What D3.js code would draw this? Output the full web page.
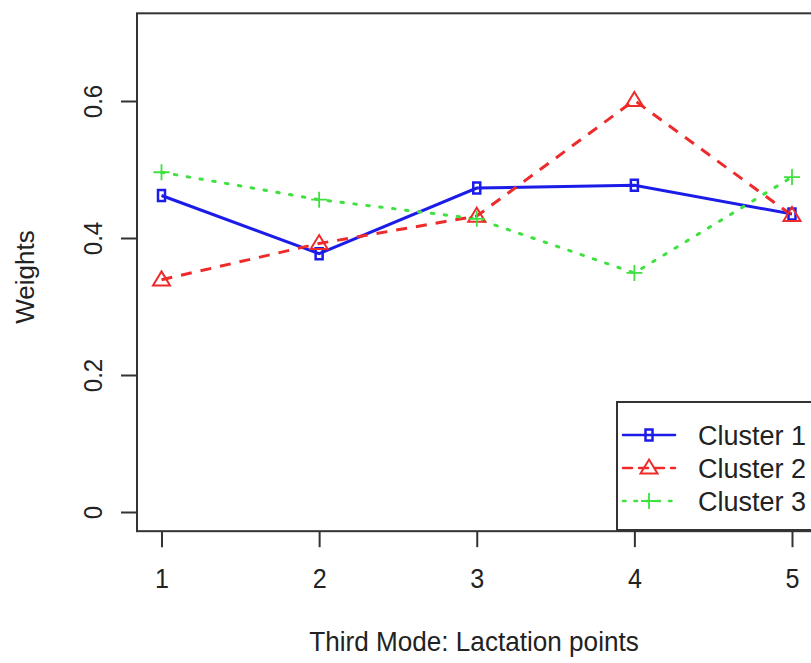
<!DOCTYPE html>
<html>
<head>
<meta charset="utf-8">
<script src="https://cdn.jsdelivr.net/npm/d3@7"></script>
<style>
  html, body { margin: 0; padding: 0; background: #fff; }
  svg { display: block; font-family: "Liberation Sans", Arial, sans-serif; }
</style>
</head>
<body>
<svg id="chart" width="811" height="663"></svg>
<script>
// Lactation points on the third mode
const points = [1, 2, 3, 4, 5];
const xTickLabels = ["1", "2", "3", "4", "5"];
const yTicks = [0, 0.2, 0.4, 0.6];
const yTickLabels = ["0", "0.2", "0.4", "0.6"];

// Cluster weights per lactation point
const cluster1 = [0.462, 0.377, 0.473, 0.477, 0.435];
const cluster2 = [0.339, 0.392, 0.432, 0.601, 0.433];
const cluster3 = [0.496, 0.456, 0.428, 0.349, 0.489];
const seriesNames = ["Cluster 1", "Cluster 2", "Cluster 3"];

const svg = d3.select("#chart");

const x = d3.scaleLinear().domain([1, 5]).range([161.5, 792]);
const y = d3.scaleLinear().domain([0, 0.6]).range([512, 101]);

// plot region (R style: 4% padding around the data range)
const xLo = x.invert(137), xHi = x.invert(817);
const yLo = -0.028, yHi = 0.728;

const styles = [
  { values: cluster1, color: "#1c1ce8", dash: null, marker: "square" },
  { values: cluster2, color: "#ee2b2b", dash: "11,9", marker: "triangle" },
  { values: cluster3, color: "#3fe03f", dash: "2.5,10.5", marker: "plus" }
];

const line = d3.line().x((d, i) => x(points[i])).y(d => y(d));

const gLines = svg.append("g");
styles.forEach(s => {
  gLines.append("path")
    .datum(s.values)
    .attr("d", line)
    .attr("fill", "none")
    .attr("stroke", s.color)
    .attr("stroke-width", 3)
    .attr("stroke-linecap", s.marker === "plus" ? "round" : "butt")
    .attr("stroke-dasharray", s.dash);
});

function drawMarker(g, kind, cx, cy, color) {
  if (kind === "square") {
    g.append("rect")
      .attr("x", cx - 3.5).attr("y", cy - 5.5)
      .attr("width", 7).attr("height", 11)
      .attr("fill", "none").attr("stroke", color).attr("stroke-width", 2.5);
  } else if (kind === "triangle") {
    const h = 14, w = 17;
    g.append("path")
      .attr("d", `M${cx},${cy - h * 0.6}L${cx + w / 2},${cy + h * 0.4}L${cx - w / 2},${cy + h * 0.4}Z`)
      .attr("fill", "none").attr("stroke", color).attr("stroke-width", 2);
  } else {
    const r = 8;
    g.append("path")
      .attr("d", `M${cx - r},${cy}H${cx + r}M${cx},${cy - r}V${cy + r}`)
      .attr("fill", "none").attr("stroke", color).attr("stroke-width", 1.8);
  }
}

const gMarks = svg.append("g");
styles.forEach(s => {
  s.values.forEach((v, i) => drawMarker(gMarks, s.marker, x(points[i]), y(v), s.color));
});

// plot frame
const axisColor = "#333";
const textColor = "#222";
svg.append("rect")
  .attr("x", x(xLo)).attr("y", y(yHi))
  .attr("width", x(xHi) - x(xLo)).attr("height", y(yLo) - y(yHi))
  .attr("fill", "none").attr("stroke", axisColor).attr("stroke-width", 2);

// x axis
const xAxis = d3.axisBottom(x).tickValues(points).tickSize(16).tickPadding(0)
  .tickFormat((d, i) => xTickLabels[i]);
const gx = svg.append("g").attr("transform", `translate(0,${y(yLo)})`).call(xAxis);
gx.select(".domain").remove();
gx.selectAll(".tick line").attr("stroke", axisColor).attr("stroke-width", 2);
gx.selectAll(".tick text")
  .attr("font-size", 27).attr("fill", textColor)
  .attr("font-family", "'Liberation Sans', Arial, sans-serif")
  .attr("y", null).attr("dy", null)
  .attr("transform", "translate(0,57) scale(0.93,1)");

// y axis with rotated tick labels
const yAxis = d3.axisLeft(y).tickValues(yTicks).tickSize(16).tickFormat((d, i) => yTickLabels[i]);
const gy = svg.append("g").attr("transform", `translate(${x(xLo)},0)`).call(yAxis);
gy.select(".domain").remove();
gy.selectAll(".tick line").attr("stroke", axisColor).attr("stroke-width", 2);
gy.selectAll(".tick text")
  .attr("font-size", 26).attr("fill", textColor)
  .attr("font-family", "'Liberation Sans', Arial, sans-serif")
  .attr("x", null).attr("dy", null)
  .attr("text-anchor", "middle")
  .attr("transform", "translate(-35,0) rotate(-90) scale(0.93,1)");

// axis titles
svg.append("text")
  .attr("transform", "translate(474,651) scale(0.95,1)")
  .attr("text-anchor", "middle").attr("font-size", 27.5).attr("fill", textColor)
  .text("Third Mode: Lactation points");
svg.append("text")
  .attr("transform", "translate(34,277) rotate(-90)")
  .attr("text-anchor", "middle").attr("font-size", 26).attr("fill", textColor)
  .text("Weights");

// legend
const lg = svg.append("g");
lg.append("rect")
  .attr("x", 617).attr("y", 402).attr("width", 220).attr("height", 128)
  .attr("fill", "#fff").attr("stroke", axisColor).attr("stroke-width", 2);
const rowY = [435, 468, 501];
styles.forEach((s, i) => {
  lg.append("line")
    .attr("x1", 623).attr("x2", 675).attr("y1", rowY[i]).attr("y2", rowY[i])
    .attr("stroke", s.color).attr("stroke-width", 2.5)
    .attr("stroke-dasharray", s.dash ? (s.marker === "triangle" ? "9,7" : "2.5,9") : null)
    .attr("stroke-linecap", "round");
  drawMarker(lg, s.marker, 649, rowY[i], s.color);
  lg.append("text")
    .attr("x", 698).attr("y", rowY[i]).attr("dy", "0.36em")
    .attr("font-size", 27).attr("fill", textColor)
    .text(seriesNames[i]);
});
</script>
</body>
</html>
